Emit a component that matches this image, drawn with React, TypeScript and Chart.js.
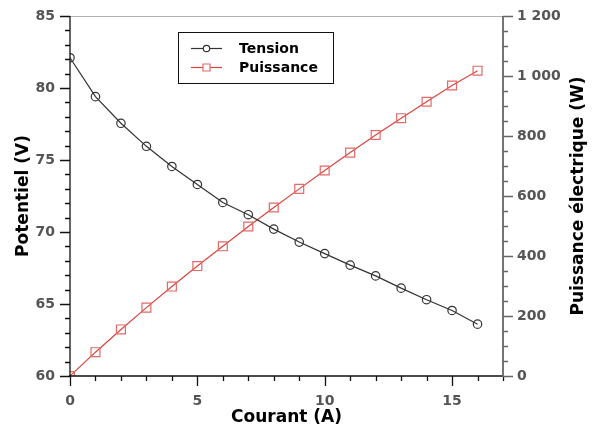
import React, { useEffect, useRef } from "react";
import { Chart, registerables } from "chart.js";

Chart.register(...registerables);

// Courant (A) mesuré à chaque palier
const currentA = [0, 1, 2, 3, 4, 5, 6, 7, 8, 9, 10, 11, 12, 13, 14, 15, 16];
// Tension aux bornes (V)
const tensionV = [82.1, 79.4, 77.55, 75.95, 74.55, 73.3, 72.05, 71.2, 70.2, 69.3, 68.5, 67.7, 66.95, 66.1, 65.3, 64.55, 63.6];
// Puissance électrique (W)
const puissanceW = [0, 79.4, 155.1, 227.9, 298.2, 366.5, 432.3, 498.4, 561.6, 623.7, 685, 744.7, 803.4, 859.3, 914.2, 968.3, 1017.6];

const seriesLabels = ["Tension", "Puissance"];
const axisTitles = { x: "Courant (A)", y: "Potentiel (V)", y1: "Puissance électrique (W)" };

const FONT = "'DejaVu Sans', sans-serif";
const TENSION_COLOR = "#333333";
const POWER_LINE = "#d9453f";
const POWER_MARK = "#e06a66";

const formatThousands = (v: number) =>
  String(v).replace(/\B(?=(\d{3})+(?!\d))/g, " ");

// Axis lines, major/minor tick marks, right-hand title and the legend box
const framePlugin = {
  id: "frame",
  afterDatasetsDraw(chart: any) {
    const { ctx, chartArea } = chart;
    const { left, right, top, bottom } = chartArea;
    const xs = chart.scales.x;
    const ys = chart.scales.y;
    const y1 = chart.scales.y1;
    ctx.save();

    // top border
    ctx.strokeStyle = "#b0b0b0";
    ctx.lineWidth = 1;
    ctx.beginPath();
    ctx.moveTo(left, top + 0.5);
    ctx.lineTo(right, top + 0.5);
    ctx.stroke();

    // left axis + ticks
    ctx.strokeStyle = "#111";
    ctx.lineWidth = 1.3;
    ctx.beginPath();
    ctx.moveTo(left, top);
    ctx.lineTo(left, bottom);
    for (let v = 60; v <= 85; v += 1) {
      const py = Math.round(ys.getPixelForValue(v)) + 0.5;
      const len = v % 5 === 0 ? 10 : 5;
      ctx.moveTo(left, py);
      ctx.lineTo(left - len, py);
    }
    ctx.stroke();

    // bottom axis + ticks
    ctx.beginPath();
    ctx.moveTo(left - 1, bottom);
    ctx.lineTo(right, bottom);
    for (let v = 0; v <= 17; v += 1) {
      const px = Math.round(xs.getPixelForValue(v)) + 0.5;
      const len = v % 5 === 0 ? 10 : 5;
      ctx.moveTo(px, bottom);
      ctx.lineTo(px, bottom + len);
    }
    ctx.stroke();

    // right axis + ticks
    ctx.strokeStyle = "#666";
    ctx.lineWidth = 1.8;
    ctx.beginPath();
    ctx.moveTo(right, top);
    ctx.lineTo(right, bottom + 1);
    ctx.stroke();
    ctx.lineWidth = 1.3;
    ctx.beginPath();
    for (let w = 0; w <= 1200; w += 50) {
      const py = Math.round(y1.getPixelForValue(w)) + 0.5;
      const len = w % 200 === 0 ? 10 : 5;
      ctx.moveTo(right, py);
      ctx.lineTo(right + len, py);
    }
    ctx.stroke();

    // right-hand title, reading bottom to top
    ctx.fillStyle = "#000";
    ctx.font = `bold 17px ${FONT}`;
    ctx.textAlign = "center";
    ctx.textBaseline = "middle";
    ctx.translate(579, (top + bottom) / 2);
    ctx.rotate(-Math.PI / 2);
    ctx.fillText(axisTitles.y1, 0, 0);
    ctx.setTransform(1, 0, 0, 1, 0, 0);

    // legend
    const bx = 178.5, by = 32.5, bw = 155, bh = 51;
    ctx.fillStyle = "#fff";
    ctx.fillRect(bx, by, bw, bh);
    ctx.strokeStyle = "#111";
    ctx.lineWidth = 1;
    ctx.strokeRect(bx, by, bw, bh);

    const rows = [
      { y: 48, color: TENSION_COLOR, mark: TENSION_COLOR, style: "circle", text: seriesLabels[0] },
      { y: 67, color: POWER_LINE, mark: POWER_MARK, style: "rect", text: seriesLabels[1] },
    ];
    rows.forEach((r) => {
      ctx.strokeStyle = r.color;
      ctx.lineWidth = 1.2;
      ctx.beginPath();
      ctx.moveTo(191, r.y + 0.5);
      ctx.lineTo(222, r.y + 0.5);
      ctx.stroke();
      ctx.fillStyle = "#fff";
      ctx.strokeStyle = r.mark;
      ctx.beginPath();
      if (r.style === "circle") {
        ctx.arc(206.5, r.y + 0.5, 3.2, 0, Math.PI * 2);
      } else {
        ctx.rect(203, r.y - 3, 7, 7);
      }
      ctx.fill();
      ctx.stroke();
      ctx.fillStyle = "#000";
      ctx.font = `bold 14px ${FONT}`;
      ctx.textAlign = "left";
      ctx.textBaseline = "middle";
      ctx.fillText(r.text, 239, r.y + 1);
    });

    ctx.restore();
  },
};

export default function App() {
  const canvasRef = useRef<HTMLCanvasElement | null>(null);

  useEffect(() => {
    document.body.style.margin = "0";
    const canvas = canvasRef.current;
    if (!canvas) return;

    const tickFont = { family: FONT, size: 14, weight: "bold" as const };
    const titleFont = { family: FONT, size: 17, weight: "bold" as const };

    const chart = new Chart(canvas, {
      type: "line",
      data: {
        datasets: [
          {
            label: seriesLabels[0],
            data: currentA.map((x, i) => ({ x, y: tensionV[i] })),
            yAxisID: "y",
            borderColor: TENSION_COLOR,
            borderWidth: 1.2,
            pointStyle: "circle",
            pointRadius: 4.2,
            pointBorderWidth: 1.2,
            pointBorderColor: TENSION_COLOR,
            pointBackgroundColor: "rgba(255,255,255,0)",
            tension: 0,
            clip: 0 as any,
          },
          {
            label: seriesLabels[1],
            data: currentA.map((x, i) => ({ x, y: puissanceW[i] })),
            yAxisID: "y1",
            borderColor: POWER_LINE,
            borderWidth: 1.2,
            pointStyle: "rect",
            pointRadius: 6.3,
            pointBorderWidth: 1.2,
            pointBorderColor: POWER_MARK,
            pointBackgroundColor: "rgba(255,255,255,0)",
            tension: 0,
            clip: 0 as any,
          },
        ],
      },
      options: {
        responsive: false,
        animation: false,
        layout: { padding: { top: 16, left: 0, right: 0, bottom: 0 } },
        plugins: {
          legend: { display: false },
          tooltip: { enabled: false },
        },
        scales: {
          x: {
            type: "linear",
            min: 0,
            max: 17,
            grid: { display: false, drawTicks: false },
            border: { display: false },
            ticks: {
              stepSize: 5,
              includeBounds: false,
              padding: 17,
              color: "#555",
              font: tickFont,
              maxRotation: 0,
            },
            title: {
              display: true,
              text: axisTitles.x,
              color: "#000",
              font: titleFont,
              padding: { top: 0, bottom: 2 },
            },
            afterFit: (s: any) => {
              s.height = 54;
              s.paddingLeft = 0;
              s.paddingRight = 0;
            },
          },
          y: {
            type: "linear",
            position: "left",
            min: 60,
            max: 85,
            grid: { display: false, drawTicks: false },
            border: { display: false },
            ticks: { stepSize: 5, padding: 15, color: "#555", font: tickFont },
            title: {
              display: true,
              text: axisTitles.y,
              color: "#000",
              font: titleFont,
              padding: { top: 13, bottom: 0 },
            },
            afterFit: (s: any) => {
              s.width = 70;
              s.paddingTop = 0;
              s.paddingBottom = 0;
            },
          },
          y1: {
            type: "linear",
            position: "right",
            min: 0,
            max: 1200,
            grid: { display: false, drawTicks: false },
            border: { display: false },
            ticks: {
              stepSize: 200,
              padding: 14,
              color: "#555",
              font: tickFont,
              callback: (v: any) => formatThousands(Number(v)),
            },
            afterFit: (s: any) => {
              s.width = 92;
              s.paddingTop = 0;
              s.paddingBottom = 0;
            },
          },
        },
      },
      plugins: [framePlugin],
    });

    return () => chart.destroy();
  }, []);

  return (
    <canvas
      ref={canvasRef}
      width={595}
      height={430}
      style={{ display: "block", width: 595, height: 430 }}
    />
  );
}
